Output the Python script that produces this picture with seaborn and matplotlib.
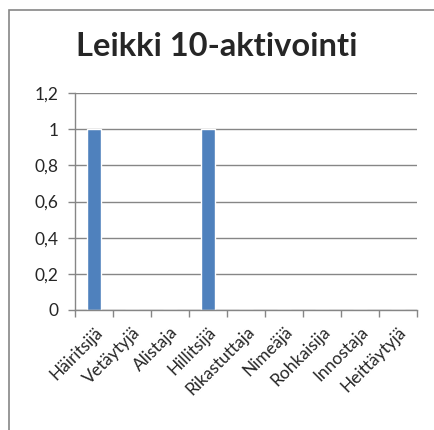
import matplotlib
matplotlib.use("Agg")
import matplotlib.pyplot as plt
import seaborn as sns
import pandas as pd
import numpy as np
from matplotlib.patches import Rectangle
from matplotlib.ticker import FixedLocator, FuncFormatter

categories = ["Häiritsijä", "Vetäytyjä", "Alistaja", "Hillitsijä", "Rikastuttaja",
              "Nimeäjä", "Rohkaisija", "Innostaja", "Heittäytyjä"]
values = [1, 0, 0, 1, 0, 0, 0, 0, 0]
yticks = [0, 0.2, 0.4, 0.6, 0.8, 1.0, 1.2]
title = "Leikki 10-aktivointi"

sns.set_style("white")
plt.rcParams["font.family"] = ["Lato", "DejaVu Sans"]

df = pd.DataFrame({"cat": categories, "val": values})

fig = plt.figure(figsize=(4.34, 4.30), dpi=100)
ax = fig.add_axes([75/434, 1-310/430, (417-75)/434, (310-93)/430])

sns.barplot(data=df, x="cat", y="val", color="#4F81BD", saturation=1, width=0.37, ax=ax)

grid_c = "#868686"
ax.set_ylim(0, 1.2)
ax.set_xlim(-0.5, len(categories)-0.5)
ax.yaxis.set_major_locator(FixedLocator(yticks))
ax.yaxis.set_major_formatter(FuncFormatter(lambda v, p: ("%g" % round(v, 1)).replace(".", ",")))
ax.grid(axis="y", color=grid_c, linewidth=1)
ax.set_axisbelow(True)
for s in ["top", "right"]:
    ax.spines[s].set_visible(False)
for s in ["left", "bottom"]:
    ax.spines[s].set_color(grid_c)
    ax.spines[s].set_linewidth(1)
ax.tick_params(axis="y", length=5, color=grid_c, width=1, labelsize=12.5, pad=7, left=True)
ax.set_xticks(np.arange(len(categories)))
ax.set_xticklabels(categories, rotation=45, ha="right", rotation_mode="anchor", fontsize=12.5)
ax.tick_params(axis="x", which="major", length=0, pad=10)
ax.set_xticks(np.arange(-0.5, len(categories)), minor=True)
ax.tick_params(axis="x", which="minor", length=5, color=grid_c, width=1, bottom=True)
ax.set_xlabel("")
ax.set_ylabel("")

fig.text(0.5, 1-47/430, title, ha="center", va="center", fontsize=23.5, fontweight="bold")

fig.patches.append(Rectangle((9/434, -0.1), 1.2, 1-10/430+0.1, transform=fig.transFigure,
                             fill=False, edgecolor="#868686", linewidth=1.2, zorder=0))

fig.savefig("out.png", dpi=100)
